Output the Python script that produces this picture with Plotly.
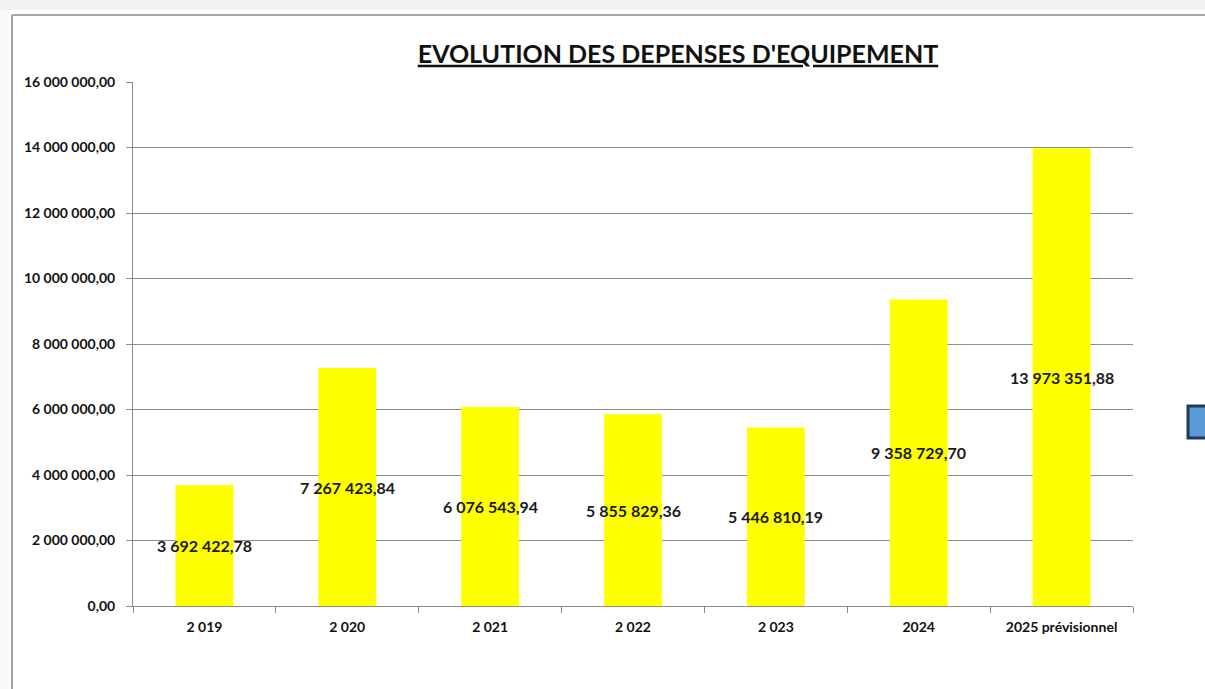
import plotly.graph_objects as go

categories = ["2 019", "2 020", "2 021", "2 022", "2 023", "2024", "2025 prévisionnel"]
values = [3692422.78, 7267423.84, 6076543.94, 5855829.36, 5446810.19, 9358729.70, 13973351.88]
y_tick_vals = [0, 2000000, 4000000, 6000000, 8000000, 10000000, 12000000, 14000000, 16000000]
y_tick_text = ["0,00", "2 000 000,00", "4 000 000,00", "6 000 000,00", "8 000 000,00",
               "10 000 000,00", "12 000 000,00", "14 000 000,00", "16 000 000,00"]
title_text = "EVOLUTION DES DEPENSES D'EQUIPEMENT"


def fr_fmt(v):
    s = f"{v:,.2f}"
    return s.replace(",", " ").replace(".", ",")


W, H = 1205, 689
L, R, T, B = 133, 72, 82, 83
pw = W - L - R
ph = H - T - B


def px_x(p):
    return (p - L) / pw


def px_y(p):
    return (H - B - p) / ph


positions = list(range(len(categories)))

fig = go.Figure()
fig.add_trace(go.Bar(
    x=positions, y=values,
    marker=dict(color="#FFFF00", line=dict(width=0)),
    width=0.405,
    hovertext=categories, hoverinfo="text+y",
))

label_font = dict(family="Lato, Open Sans, sans-serif", size=16, color="#1a1a1a")
for i, v in zip(positions, values):
    fig.add_annotation(x=i, y=v / 2, text="<b>" + fr_fmt(v) + "</b>", showarrow=False,
                       font=label_font, xanchor="center", yanchor="middle")

shapes = [
    dict(type="rect", xref="paper", yref="paper", x0=px_x(0), x1=px_x(W), y0=px_y(0), y1=px_y(10),
         fillcolor="#f1f1f1", line=dict(width=0), layer="below"),
    dict(type="rect", xref="paper", yref="paper", x0=px_x(0), x1=px_x(9), y0=px_y(10), y1=px_y(H),
         fillcolor="#f8f8f8", line=dict(width=0), layer="below"),
    dict(type="line", xref="paper", yref="paper", x0=px_x(12), x1=px_x(W), y0=px_y(15), y1=px_y(15),
         line=dict(color="#a6a6a6", width=2)),
    dict(type="line", xref="paper", yref="paper", x0=px_x(12), x1=px_x(12), y0=px_y(15), y1=px_y(H),
         line=dict(color="#a6a6a6", width=2)),
    dict(type="rect", xref="paper", yref="paper", x0=px_x(1188), x1=px_x(1210), y0=px_y(406), y1=px_y(438),
         fillcolor="#5b9bd5", line=dict(color="#1f3a5a", width=3)),
]

fig.update_layout(
    width=W, height=H,
    margin=dict(l=L, r=R, t=T, b=B, pad=0),
    paper_bgcolor="white", plot_bgcolor="white",
    showlegend=False,
    shapes=shapes,
    title=dict(text="<b><u>" + title_text + "</u></b>", xref="container", yref="container",
               x=678 / W, y=1 - 54 / H, xanchor="center", yanchor="middle",
               font=dict(family="Lato, Open Sans, sans-serif", size=25, color="#111111")),
    xaxis=dict(
        range=[-0.5, len(categories) - 0.5],
        tickmode="array", tickvals=positions,
        ticktext=["<b>" + c + "</b>" for c in categories],
        tickangle=0,
        showline=True, linecolor="#8c8c8c", linewidth=1,
        ticks="", showgrid=False, zeroline=False, automargin=False,
        ticklabelstandoff=8,
        tickfont=dict(family="Lato, Open Sans, sans-serif", size=14, color="#111111"),
        minor=dict(tickmode="array", tickvals=[p + 0.5 for p in positions[:-1]] + [-0.5, positions[-1] + 0.5],
                   ticks="outside", ticklen=6, tickcolor="#8c8c8c", showgrid=False),
    ),
    yaxis=dict(
        range=[0, 16000000],
        tickvals=y_tick_vals, ticktext=["<b>" + t + "</b>" for t in y_tick_text],
        showline=True, linecolor="#8c8c8c", linewidth=1,
        ticks="outside", ticklen=6, tickcolor="#8c8c8c",
        showgrid=True, gridcolor="#8c8c8c", gridwidth=1,
        zeroline=False, automargin=False,
        ticklabelstandoff=8,
        tickfont=dict(family="Lato, Open Sans, sans-serif", size=14, color="#111111"),
    ),
)

fig.write_html("out.html", config={"displayModeBar": False},
               post_script="document.body.style.margin='0';document.body.style.overflow='hidden';")
